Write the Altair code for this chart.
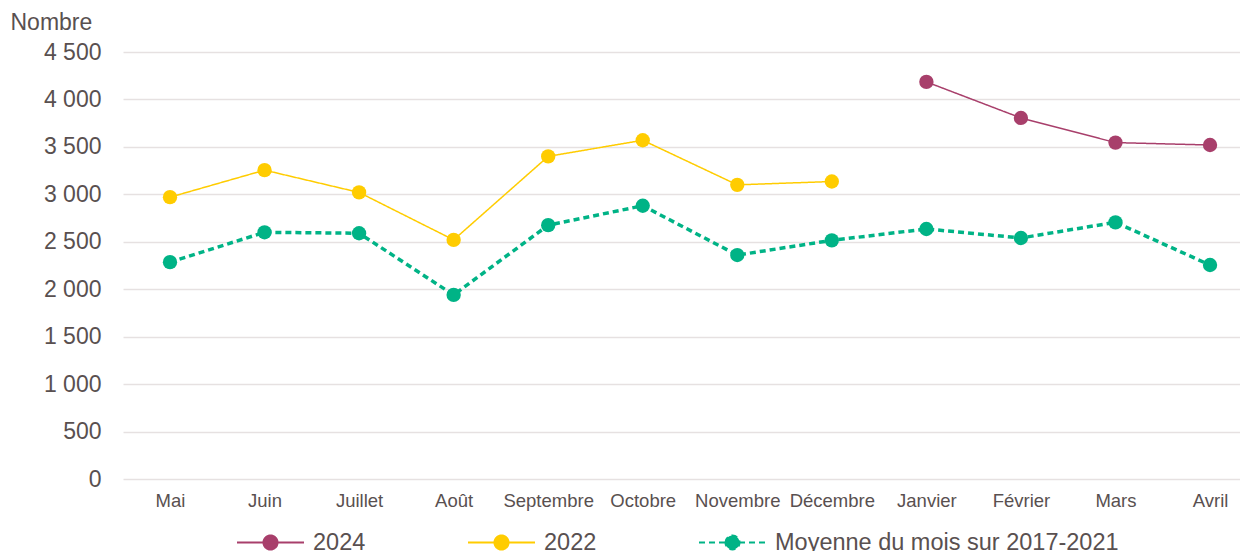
import altair as alt
import pandas as pd

months = ["Mai", "Juin", "Juillet", "Août", "Septembre", "Octobre", "Novembre",
          "Décembre", "Janvier", "Février", "Mars", "Avril"]
series_names = ["2024", "2022", "Moyenne du mois sur 2017-2021"]
v2024 = [None, None, None, None, None, None, None, None, 4185, 3805, 3545, 3520]
v2022 = [2970, 3255, 3020, 2520, 3400, 3570, 3100, 3135, None, None, None, None]
vavg = [2285, 2600, 2590, 1940, 2675, 2880, 2360, 2515, 2635, 2540, 2705, 2255]
colors = ["#A83F6B", "#FFCC00", "#00B386"]
y_ticks = [0, 500, 1000, 1500, 2000, 2500, 3000, 3500, 4000, 4500]

rows = []
for name, vals in zip(series_names, [v2024, v2022, vavg]):
    for i, (m, v) in enumerate(zip(months, vals)):
        if v is not None:
            rows.append({"idx": i, "mois": m, "serie": name, "valeur": v})
df = pd.DataFrame(rows)

font = "Liberation Sans"
txt = "#595050"

legend_path = "M-1,0L1,0M-0.21,0A0.21,0.21,0,1,1,0.21,0A0.21,0.21,0,1,1,-0.21,0Z"
month_js = "[" + ",".join("'" + m + "'" for m in months) + "]"

x_enc = alt.X("idx:Q",
              scale=alt.Scale(domain=[-0.497, 11.317], nice=False, zero=False),
              axis=alt.Axis(title=None, values=list(range(len(months))),
                            labelExpr=month_js + "[datum.value]",
                            labelAngle=0, ticks=False, domain=False,
                            grid=False, labelFontSize=18.5, labelColor=txt,
                            labelPadding=12, labelFont=font, labelFlush=False,
                            labelOverlap=False))
y_enc = alt.Y("valeur:Q",
              scale=alt.Scale(domain=[0, 4500], nice=False),
              axis=alt.Axis(values=y_ticks, title="Nombre", titleAngle=0,
                            titleAlign="left", titleBaseline="middle",
                            titleX=-113, titleY=-30, titleFontSize=23,
                            titleFontWeight="normal", titleColor=txt, titleFont=font,
                            labelFontSize=23, labelColor=txt, labelFont=font,
                            labelPadding=22, ticks=False, domain=False,
                            gridColor="#E6E1E1", gridWidth=1.5,
                            labelExpr="replace(format(datum.value, ','), ',', ' ')"))

leg = alt.Legend(title=None, orient="none", direction="horizontal",
                 legendX=113, legendY=456,
                 symbolType=legend_path, symbolSize=4489,
                 symbolStrokeWidth=2, labelFontSize=23.5, labelLimit=600,
                 labelColor=txt, labelFont=font,
                 columnPadding=98, labelOffset=8)
col_scale = alt.Scale(domain=series_names, range=colors)

stroke_enc = alt.Stroke("serie:N", sort=series_names, scale=col_scale, legend=leg)
fill_enc = alt.Fill("serie:N", sort=series_names, scale=col_scale, legend=leg)
dash_enc = alt.StrokeDash("serie:N", sort=series_names,
                          scale=alt.Scale(domain=series_names,
                                          range=[[1, 0], [1, 0], [6, 4]]),
                          legend=leg)

base = alt.Chart(df)
lines = base.mark_line().encode(
    x=x_enc, y=y_enc, stroke=stroke_enc, strokeDash=dash_enc,
    strokeWidth=alt.condition(alt.datum.serie == series_names[2],
                              alt.value(3.5), alt.value(1.5)))
points = base.mark_circle(size=205, opacity=1).encode(x=x_enc, y=y_enc, fill=fill_enc)

chart = (
    alt.layer(lines, points)
    .properties(
        width=1117, height=427,
        autosize=alt.AutoSizeParams(type="none"),
        padding={"left": 115, "top": 44, "right": 0, "bottom": 72},
    )
    .configure(font=font)
    .configure_view(strokeWidth=0, stroke="transparent")
    .configure_axis(domain=False)
    .configure_axisX(grid=False)
)

chart.save("out.html", embed_options={"renderer": "svg", "actions": False})
